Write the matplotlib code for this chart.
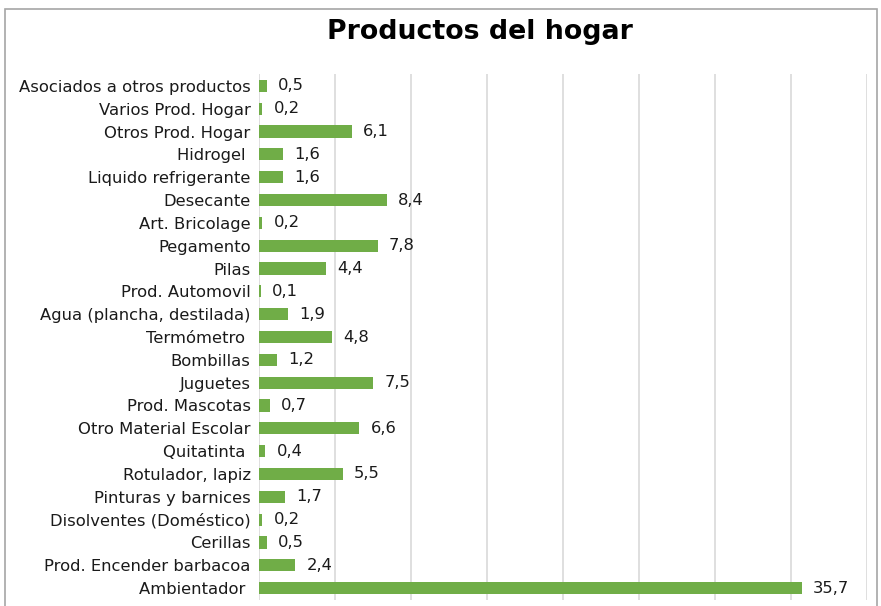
import matplotlib.pyplot as plt
from matplotlib.patches import Rectangle

categorias = ['Asociados a otros productos', 'Varios Prod. Hogar', 'Otros Prod. Hogar',
              'Hidrogel ', 'Liquido refrigerante', 'Desecante', 'Art. Bricolage',
              'Pegamento', 'Pilas', 'Prod. Automovil', 'Agua (plancha, destilada)',
              'Termómetro ', 'Bombillas', 'Juguetes', 'Prod. Mascotas',
              'Otro Material Escolar', 'Quitatinta ', 'Rotulador, lapiz',
              'Pinturas y barnices', 'Disolventes (Doméstico)', 'Cerillas',
              'Prod. Encender barbacoa', 'Ambientador ']
valores = [0.5, 0.2, 6.1, 1.6, 1.6, 8.4, 0.2, 7.8, 4.4, 0.1, 1.9, 4.8, 1.2, 7.5,
           0.7, 6.6, 0.4, 5.5, 1.7, 0.2, 0.5, 2.4, 35.7]

plt.rcParams['font.family'] = ['DejaVu Sans']

fig = plt.figure(figsize=(8.81, 6.06), dpi=100)
ax = fig.add_axes([259/881, 6/606, (867-259)/881, (600-74)/606])

pos = list(range(len(categorias)))
ax.barh(pos, valores, height=0.53, color='#70AD47', zorder=3)
for p, v in zip(pos, valores):
    ax.text(v + 0.75, p, f'{v:.1f}'.replace('.', ','), va='center', ha='left',
            fontsize=11.8, color='#1a1a1a')

ax.set_yticks(pos)
ax.set_yticklabels(categorias, fontsize=11.8, color='#1a1a1a')
ax.set_ylim(len(categorias) - 0.48, -0.52)
ax.set_xlim(0, 40)
ax.set_xticks(range(0, 41, 5))
ax.set_xticklabels([])
ax.tick_params(axis='both', length=0, pad=6)
ax.grid(axis='x', color='#d9d9d9', linewidth=1.2, zorder=0)
for s in ax.spines.values():
    s.set_visible(False)

fig.text(480/881, 1 - 32/606, 'Productos del hogar', ha='center', va='center',
         fontsize=19.3, fontweight='bold')

fig.patches.append(Rectangle((5/881, -0.01), 872/881, 1 - 9/606 + 0.01,
                             transform=fig.transFigure, fill=False,
                             edgecolor='#a6a6a6', linewidth=1.2))

fig.savefig('out.png', dpi=100)
